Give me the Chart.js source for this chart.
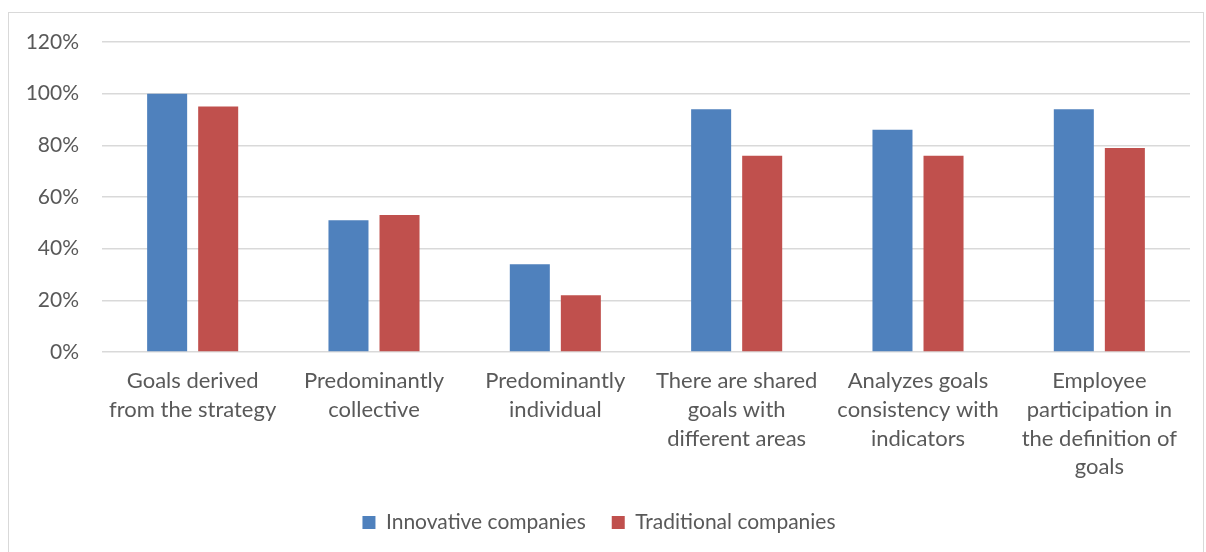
<!DOCTYPE html>
<html>
<head>
<meta charset="utf-8">
<script src="https://cdn.jsdelivr.net/npm/chart.js@4/dist/chart.umd.min.js"></script>
<style>
  html, body { margin: 0; padding: 0; background: #fff; }
  #frame {
    position: absolute; left: 8px; top: 12px; width: 1196px; height: 560px;
    border: 1px solid #d9d9d9; box-sizing: border-box;
  }
  #wrap { position: absolute; left: 0; top: 0; width: 1206px; height: 552px; }
</style>
</head>
<body>
<div id="frame"></div>
<div id="wrap"><canvas id="myChart" width="1206" height="552"></canvas></div>
<script>
// categories, split into the lines they are printed on
const categories = [
  ["Goals derived", "from the strategy"],
  ["Predominantly", "collective"],
  ["Predominantly", "individual"],
  ["There are shared", "goals with", "different areas"],
  ["Analyzes goals", "consistency with", "indicators"],
  ["Employee", "participation in", "the definition of", "goals"]
];
const innovative = [100, 51, 34, 94, 86, 94];
const traditional = [95, 53, 22, 76, 76, 79];
const yTicks = [0, 20, 40, 60, 80, 100, 120];

const textColor = "#595959";
const fontFamily = "Lato, 'Open Sans', sans-serif";

const ctx = document.getElementById("myChart").getContext("2d");
new Chart(ctx, {
  type: "bar",
  data: {
    labels: categories,
    datasets: [
      {
        label: "Innovative companies",
        data: innovative,
        backgroundColor: "#4F81BD",
        categoryPercentage: 0.563,
        barPercentage: 0.784,
      },
      {
        label: "Traditional companies",
        data: traditional,
        backgroundColor: "#C0504D",
        categoryPercentage: 0.563,
        barPercentage: 0.784,
      },
    ],
  },
  options: {
    responsive: false,
    animation: false,
    layout: { padding: { top: 42, right: 16, left: 8, bottom: 9 } },
    plugins: {
      tooltip: { enabled: false },
      legend: {
        position: "bottom",
        labels: {
          boxWidth: 13,
          boxHeight: 13,
          padding: 26,
          color: textColor,
          font: { family: fontFamily, size: 21 },
        },
      },
    },
    scales: {
      x: {
        grid: { display: false, drawTicks: false },
        border: { display: false },
        ticks: {
          color: textColor,
          padding: 15,
          maxRotation: 0,
          autoSkip: false,
          font: { family: fontFamily, size: 22, lineHeight: 1.3 },
        },
        afterFit: (scale) => { scale.height = 134; },
      },
      y: {
        min: 0,
        max: 120,
        afterBuildTicks: (scale) => {
          scale.ticks = yTicks.map((v) => ({ value: v }));
        },
        grid: { color: "#d9d9d9", lineWidth: 1.5, drawTicks: false },
        border: { display: false },
        ticks: {
          color: textColor,
          padding: 23,
          font: { family: fontFamily, size: 21 },
          callback: (v) => v + "%",
        },
        afterFit: (scale) => { scale.width = 94; },
      },
    },
  },
});
</script>
</body>
</html>
